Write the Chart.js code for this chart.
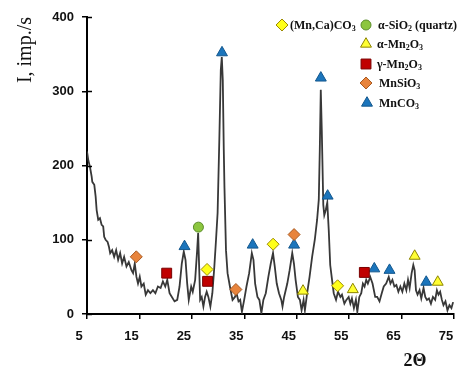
<!DOCTYPE html>
<html>
<head>
<meta charset="utf-8">
<script src="https://cdn.jsdelivr.net/npm/chart.js@4/dist/chart.umd.min.js"></script>
<style>
  html, body { margin: 0; padding: 0; background: #fff; }
  #wrap { width: 462px; height: 367px; position: relative; }
</style>
</head>
<body>
<div id="wrap"><canvas id="xrd"></canvas></div>
<script>
/* XRD pattern, intensity vs 2-theta, with phase markers */

const twoTheta = [
  5.00, 5.25, 5.57, 5.89, 6.01, 6.39, 6.65, 6.84, 7.14, 7.47, 7.79, 8.09, 8.28, 8.55, 8.93, 9.17,
  9.42, 9.80, 10.18, 10.56, 10.94, 11.32, 11.70, 12.08, 12.53, 12.97, 13.48, 13.79, 14.11, 14.43,
  14.73, 15.06, 15.38, 15.82, 16.20, 16.63, 17.09, 17.58, 18.04, 18.53, 19.04, 19.48, 19.93, 20.31,
  20.75, 21.19, 21.70, 22.21, 22.65, 23.08, 23.46, 23.79, 24.11, 24.41, 24.87, 25.17, 25.63, 26.01,
  26.20, 26.39, 26.58, 26.88, 27.20, 27.52, 27.83, 28.15, 28.53, 28.91, 29.29, 29.61, 29.91, 30.24,
  30.52, 30.71, 30.90, 31.09, 31.22, 31.51, 31.81, 32.26, 32.76, 33.22, 33.52, 33.90, 34.22, 34.55,
  34.98, 35.42, 35.93, 36.44, 36.75, 37.07, 37.51, 37.88, 38.26, 38.64, 39.10, 39.59, 40.05, 40.48,
  40.81, 41.19, 41.62, 42.06, 42.29, 42.60, 43.20, 43.65, 44.15, 44.47, 44.79, 45.23, 45.61, 45.93,
  46.31, 46.56, 46.99, 47.45, 47.94, 48.45, 48.89, 49.21, 49.40, 49.59, 49.78, 50.07, 50.26, 50.54,
  50.83, 51.11, 51.39, 51.74, 52.06, 52.50, 52.87, 53.33, 53.63, 54.09, 54.47, 54.91, 55.23, 55.53,
  55.91, 56.29, 56.56, 56.94, 57.31, 57.62, 57.94, 58.26, 58.57, 59.02, 59.46, 59.97, 60.35, 60.79,
  61.22, 61.60, 62.06, 62.55, 62.88, 63.25, 63.63, 64.01, 64.39, 64.77, 65.15, 65.53, 65.91, 66.23,
  66.54, 66.92, 67.24, 67.49, 67.75, 68.05, 68.43, 68.76, 69.19, 69.52, 69.84, 70.22, 70.60, 70.98,
  71.41, 71.74, 72.04, 72.36, 72.69, 72.99, 73.37, 73.75, 74.13, 74.51, 74.83
];
const intensity = [
  219, 207, 198, 185, 178, 174, 158, 140, 127, 129, 120, 118, 104, 100, 97, 91,
  82, 86, 77, 86, 73, 82, 68, 77, 64, 70, 59, 55, 68, 50,
  41, 50, 37, 41, 26, 32, 28, 32, 28, 37, 35, 44, 37, 46,
  28, 23, 17, 19, 37, 68, 84, 73, 41, 19, 37, 30, 46, 86,
  109, 64, 19, 23, 10, 23, 30, 23, 10, 28, 64, 100, 136, 235,
  329, 346, 315, 221, 170, 86, 55, 37, 19, 23, 28, 17, 19, 3,
  19, 37, 55, 82, 73, 41, 23, 19, 1, 19, 28, 50, 68, 82,
  64, 41, 28, 19, 10, 23, 41, 59, 82, 68, 46, 23, 19, 5,
  19, 5, 28, 50, 77, 100, 127, 154, 221, 302, 248, 147, 133, 140,
  150, 113, 66, 46, 28, 19, 30, 23, 26, 14, 19, 23, 14, 21,
  8, 19, 3, 23, 28, 41, 37, 46, 41, 50, 41, 23, 23, 17,
  28, 37, 41, 50, 41, 46, 37, 39, 30, 37, 30, 41, 32, 46,
  35, 55, 66, 59, 32, 26, 32, 21, 35, 23, 19, 21, 14, 23,
  19, 32, 26, 30, 19, 12, 17, 5, 12, 8, 16
];

// phase markers (2-theta, intensity)
const mnCaCO3Theta = [27.9, 40.5, 52.8];
const mnCaCO3I     = [60, 94, 38];
const quartzTheta  = [26.25];
const quartzI      = [117];
const aMn2O3Theta  = [46.2, 55.7, 67.5, 71.9];
const aMn2O3I      = [31, 33, 78, 43];
const gMn2O3Theta  = [20.2, 28.0, 57.9];
const gMn2O3I      = [55, 44, 56];
const mnSiO3Theta  = [14.4, 33.4, 44.5];
const mnSiO3I      = [77, 33, 107];
const mnCO3Theta   = [23.6, 30.75, 36.6, 44.5, 49.6, 50.9, 59.8, 62.7, 69.7];
const mnCO3I       = [91, 352, 93, 93, 318, 159, 61, 59, 43];

const xTicks = [5, 15, 25, 35, 45, 55, 65, 75];
const yTicks = [0, 100, 200, 300, 400];

const pts = (xs, ys) => xs.map((x, i) => ({ x, y: ys[i] }));

const phases = [
  { label: '(Mn,Ca)CO_3',      xs: mnCaCO3Theta, ys: mnCaCO3I, style: 'rectRot',  r: 6,   fill: '#ffff1a', edge: '#9c8a00' },
  { label: 'α-SiO_2 (quartz)', xs: quartzTheta,  ys: quartzI,  style: 'circle',   r: 5,   fill: '#8cc63f', edge: '#5b8c2a' },
  { label: 'α-Mn_2O_3',        xs: aMn2O3Theta,  ys: aMn2O3I,  style: 'triangle', r: 6.3, fill: '#ffff33', edge: '#8c8400' },
  { label: 'γ-Mn_2O_3',        xs: gMn2O3Theta,  ys: gMn2O3I,  style: 'rect',     r: 7,   fill: '#c00000', edge: '#7a0000' },
  { label: 'MnSiO_3',          xs: mnSiO3Theta,  ys: mnSiO3I,  style: 'rectRot',  r: 6,   fill: '#e8843c', edge: '#a85a22' },
  { label: 'MnCO_3',           xs: mnCO3Theta,   ys: mnCO3I,   style: 'triangle', r: 6.3, fill: '#1b75bc', edge: '#13578d' }
];

// legend slots: marker centre
const legendSlots = [
  { x: 282, y: 25, gap: 8 },
  { x: 366, y: 25, gap: 12 },
  { x: 366, y: 44, gap: 11 },
  { x: 366, y: 64, gap: 11 },
  { x: 366, y: 83, gap: 13 },
  { x: 367, y: 103, gap: 12 }
];

function drawSubText(ctx, text, x, y) {
  const parts = text.split(/_(\d)/);
  let cx = x;
  parts.forEach((p, i) => {
    if (!p) return;
    const sub = i % 2 === 1;
    ctx.font = sub ? 'bold 8px "Liberation Serif"' : 'bold 12px "Liberation Serif"';
    ctx.fillText(p, cx, sub ? y + 3 : y);
    cx += ctx.measureText(p).width;
  });
}

function marker(ctx, ph, x, y) {
  ctx.save();
  ctx.fillStyle = ph.fill;
  ctx.strokeStyle = ph.edge;
  ctx.lineWidth = 1;
  Chart.helpers.drawPoint(ctx, { pointStyle: ph.style, radius: ph.r, rotation: 0, borderWidth: 1 }, x, y);
  ctx.restore();
}

const decor = {
  id: 'decor',
  afterDraw(chart) {
    const ctx = chart.ctx;
    const area = chart.chartArea;
    const ys = chart.scales.y;

    // inner halves of the y ticks
    ctx.save();
    ctx.strokeStyle = '#000';
    ctx.lineWidth = 1.5;
    yTicks.forEach(v => {
      const py = Math.round(ys.getPixelForValue(v)) + 0.5;
      ctx.beginPath();
      ctx.moveTo(area.left, py);
      ctx.lineTo(area.left + 5, py);
      ctx.stroke();
    });
    ctx.restore();

    // legend
    ctx.save();
    ctx.textBaseline = 'middle';
    ctx.textAlign = 'left';
    phases.forEach((ph, i) => {
      const s = legendSlots[i];
      marker(ctx, ph, s.x, s.y);
      ctx.fillStyle = '#111';
      drawSubText(ctx, ph.label, s.x + s.gap, s.y + 1);
    });

    // x axis title
    ctx.fillStyle = '#111';
    ctx.font = 'bold 18px "Liberation Serif"';
    ctx.textBaseline = 'alphabetic';
    ctx.textAlign = 'center';
    ctx.fillText('2Θ', area.right - 39, 366);
    ctx.restore();
  }
};

const datasets = [{
  type: 'line',
  label: 'pattern',
  data: pts(twoTheta, intensity),
  borderColor: '#383838',
  borderWidth: 1.8,
  pointRadius: 0,
  tension: 0,
  fill: false,
  order: 2
}].concat(phases.map(ph => ({
  type: 'scatter',
  label: ph.label,
  data: pts(ph.xs, ph.ys),
  pointStyle: ph.style,
  pointRadius: ph.r,
  backgroundColor: ph.fill,
  borderColor: ph.edge,
  borderWidth: 1,
  order: 1
})));

new Chart(document.getElementById('xrd'), {
  data: { datasets },
  options: {
    responsive: true,
    maintainAspectRatio: false,
    animation: false,
    layout: { padding: { top: 17, right: 7, left: 0, bottom: 0 } },
    plugins: { legend: { display: false }, tooltip: { enabled: false } },
    scales: {
      x: {
        type: 'linear',
        min: 5,
        max: 75,
        afterFit: s => { s.height = 53; s.paddingLeft = 0; s.paddingRight = 0; },
        afterBuildTicks: s => { s.ticks = xTicks.map(v => ({ value: v })); },
        border: { color: '#000', width: 2 },
        grid: { drawOnChartArea: false, drawTicks: true, tickLength: 5, color: '#000', lineWidth: 1.5 },
        ticks: {
          padding: 10,
          labelOffset: -8,
          maxRotation: 0,
          color: '#111',
          font: { family: '"Liberation Sans"', size: 13, weight: 'bold' }
        }
      },
      y: {
        min: 0,
        max: 400,
        afterFit: s => { s.width = 87; s.paddingTop = 0; s.paddingBottom = 0; },
        afterBuildTicks: s => { s.ticks = yTicks.map(v => ({ value: v })); },
        border: { color: '#000', width: 2 },
        grid: { drawOnChartArea: false, drawTicks: true, tickLength: 5, color: '#000', lineWidth: 1.5 },
        ticks: {
          padding: 8,
          color: '#111',
          font: { family: '"Liberation Sans"', size: 13, weight: 'bold' }
        },
        title: {
          display: true,
          text: 'I, imp./s',
          align: 'end',
          color: '#111',
          padding: { top: 14, bottom: 0 },
          font: { family: '"Liberation Serif"', size: 20 }
        }
      }
    }
  },
  plugins: [decor]
});
</script>
</body>
</html>
